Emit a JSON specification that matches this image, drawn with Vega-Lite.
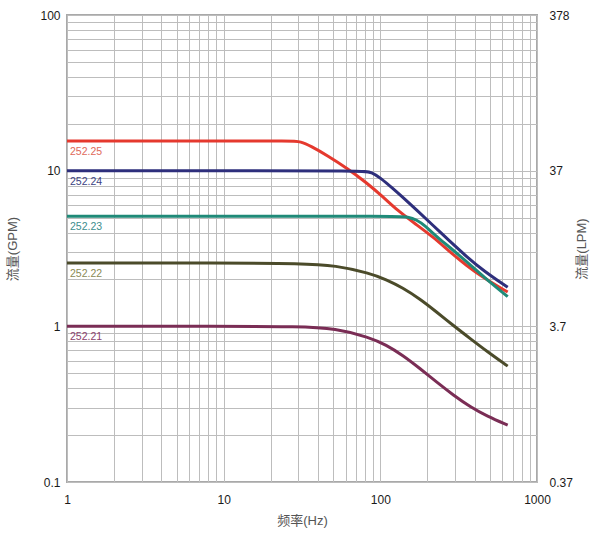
{
  "$schema": "https://vega.github.io/schema/vega-lite/v6.json",
  "width": 470,
  "height": 467,
  "autosize": {"type": "none"},
  "padding": {"left": 67, "top": 15, "right": 60, "bottom": 55},
  "background": "white",
  "config": {
    "view": {"stroke": "#a9a9a9", "strokeWidth": 2},
    "font": "Liberation Sans, Noto Sans CJK SC",
    "axis": {
      "labelFont": "Liberation Sans",
      "labelFontSize": 12,
      "labelColor": "#1a1a1a",
      "titleFont": "Liberation Sans, Noto Sans CJK SC",
      "titleFontSize": 13,
      "titleFontWeight": "normal",
      "titleColor": "#555555",
      "ticks": false,
      "domain": false,
      "gridColor": "#bdbdbd",
      "gridWidth": 1,
      "gridOpacity": 1
    }
  },
  "datasets": {
    "curves": [
      {"model": "252.25", "freq": 1, "flow": 15.5},
      {"model": "252.25", "freq": 10, "flow": 15.5},
      {"model": "252.25", "freq": 27, "flow": 15.5},
      {"model": "252.25", "freq": 31, "flow": 15.4},
      {"model": "252.25", "freq": 36, "flow": 14.4},
      {"model": "252.25", "freq": 46, "flow": 12.5},
      {"model": "252.25", "freq": 62, "flow": 10.3},
      {"model": "252.25", "freq": 80, "flow": 8.5},
      {"model": "252.25", "freq": 104, "flow": 6.8},
      {"model": "252.25", "freq": 130, "flow": 5.5},
      {"model": "252.25", "freq": 170, "flow": 4.5},
      {"model": "252.25", "freq": 217, "flow": 3.75},
      {"model": "252.25", "freq": 279, "flow": 3.0},
      {"model": "252.25", "freq": 356, "flow": 2.45},
      {"model": "252.25", "freq": 456, "flow": 2.05},
      {"model": "252.25", "freq": 650, "flow": 1.66},
      {"model": "252.24", "freq": 1, "flow": 10},
      {"model": "252.24", "freq": 10, "flow": 10},
      {"model": "252.24", "freq": 78, "flow": 10},
      {"model": "252.24", "freq": 88, "flow": 9.8},
      {"model": "252.24", "freq": 100, "flow": 9.0},
      {"model": "252.24", "freq": 120, "flow": 7.7},
      {"model": "252.24", "freq": 140, "flow": 6.7},
      {"model": "252.24", "freq": 170, "flow": 5.6},
      {"model": "252.24", "freq": 217, "flow": 4.45},
      {"model": "252.24", "freq": 279, "flow": 3.5},
      {"model": "252.24", "freq": 356, "flow": 2.8},
      {"model": "252.24", "freq": 456, "flow": 2.27},
      {"model": "252.24", "freq": 650, "flow": 1.78},
      {"model": "252.23", "freq": 1, "flow": 5.1},
      {"model": "252.23", "freq": 10, "flow": 5.1},
      {"model": "252.23", "freq": 130, "flow": 5.1},
      {"model": "252.23", "freq": 150, "flow": 5.05},
      {"model": "252.23", "freq": 170, "flow": 4.85},
      {"model": "252.23", "freq": 195, "flow": 4.4},
      {"model": "252.23", "freq": 217, "flow": 3.95},
      {"model": "252.23", "freq": 250, "flow": 3.5},
      {"model": "252.23", "freq": 279, "flow": 3.2},
      {"model": "252.23", "freq": 356, "flow": 2.6},
      {"model": "252.23", "freq": 456, "flow": 2.08},
      {"model": "252.23", "freq": 650, "flow": 1.55},
      {"model": "252.22", "freq": 1, "flow": 2.55},
      {"model": "252.22", "freq": 10, "flow": 2.55},
      {"model": "252.22", "freq": 31.6, "flow": 2.54},
      {"model": "252.22", "freq": 52, "flow": 2.46},
      {"model": "252.22", "freq": 85, "flow": 2.2},
      {"model": "252.22", "freq": 109, "flow": 2.0},
      {"model": "252.22", "freq": 139, "flow": 1.77},
      {"model": "252.22", "freq": 179, "flow": 1.5},
      {"model": "252.22", "freq": 228, "flow": 1.24},
      {"model": "252.22", "freq": 293, "flow": 1.01},
      {"model": "252.22", "freq": 375, "flow": 0.834},
      {"model": "252.22", "freq": 480, "flow": 0.69},
      {"model": "252.22", "freq": 650, "flow": 0.555},
      {"model": "252.21", "freq": 1, "flow": 1.0},
      {"model": "252.21", "freq": 10, "flow": 1.0},
      {"model": "252.21", "freq": 30, "flow": 1.0},
      {"model": "252.21", "freq": 52, "flow": 0.97},
      {"model": "252.21", "freq": 85, "flow": 0.85},
      {"model": "252.21", "freq": 109, "flow": 0.76},
      {"model": "252.21", "freq": 139, "flow": 0.652},
      {"model": "252.21", "freq": 179, "flow": 0.536},
      {"model": "252.21", "freq": 228, "flow": 0.439},
      {"model": "252.21", "freq": 293, "flow": 0.361},
      {"model": "252.21", "freq": 375, "flow": 0.304},
      {"model": "252.21", "freq": 480, "flow": 0.265},
      {"model": "252.21", "freq": 650, "flow": 0.232}
    ],
    "labels": [
      {"model": "252.25", "flow": 15.5},
      {"model": "252.24", "flow": 10},
      {"model": "252.23", "flow": 5.1},
      {"model": "252.22", "flow": 2.55},
      {"model": "252.21", "flow": 1.0}
    ]
  },
  "layer": [
    {
      "data": {"name": "curves"},
      "mark": {"type": "line", "strokeWidth": 3, "interpolate": "basis"},
      "encoding": {
        "x": {
          "field": "freq", "type": "quantitative",
          "scale": {"type": "log", "domain": [1, 1000], "nice": false},
          "axis": {
            "values": [1,2,3,4,5,6,7,8,9,10,20,30,40,50,60,70,80,90,100,200,300,400,500,600,700,800,900,1000],
            "labelExpr": "datum.value == 1 ? '1' : datum.value == 10 ? '10' : datum.value == 100 ? '100' : datum.value == 1000 ? '1000' : ''",
            "labelPadding": 12,
            "labelOverlap": false,
            "labelFlush": false,
            "title": "频率(Hz)",
            "titlePadding": 9
          }
        },
        "y": {
          "field": "flow", "type": "quantitative",
          "scale": {"type": "log", "domain": [0.1, 100], "nice": false},
          "axis": {
            "values": [0.1,0.2,0.3,0.4,0.5,0.6,0.7,0.8,0.9,1,2,3,4,5,6,7,8,9,10,20,30,40,50,60,70,80,90,100],
            "labelExpr": "datum.value == 0.1 ? '0.1' : datum.value == 1 ? '1' : datum.value == 10 ? '10' : datum.value == 100 ? '100' : ''",
            "labelPadding": 7,
            "labelOverlap": false,
            "labelFlush": false,
            "title": "流量(GPM)",
            "titlePadding": 20
          }
        },
        "color": {
          "field": "model", "type": "nominal",
          "scale": {
            "domain": ["252.22", "252.21", "252.23", "252.24", "252.25"],
            "range": ["#4b4b2a", "#7a2d55", "#1f8a78", "#2e2f7c", "#e5392e"]
          },
          "legend": null
        }
      }
    },
    {
      "data": {"name": "labels"},
      "mark": {"type": "text", "align": "left", "baseline": "middle", "dy": 11, "fontSize": 10.5, "font": "Liberation Sans Narrow, Liberation Sans"},
      "encoding": {
        "x": {"datum": 1.045, "type": "quantitative"},
        "y": {
          "field": "flow", "type": "quantitative",
          "scale": {"type": "log", "domain": [0.1, 100], "nice": false},
          "axis": {
            "orient": "right",
            "values": [0.1, 1, 10, 100],
            "labelExpr": "datum.value == 0.1 ? '0.37' : datum.value == 1 ? '3.7' : datum.value == 10 ? '37' : datum.value == 100 ? '378' : ''",
            "grid": false,
            "labelPadding": 12,
            "labelOverlap": false,
            "labelFlush": false,
            "title": "流量(LPM)",
            "titleAngle": 270,
            "titlePadding": 16
          }
        },
        "text": {"field": "model"},
        "fill": {
          "field": "model", "type": "nominal",
          "scale": {
            "domain": ["252.25", "252.24", "252.23", "252.22", "252.21"],
            "range": ["#e0695a", "#3b3f82", "#3d8e8e", "#8a8a55", "#8c3f6c"]
          },
          "legend": null
        }
      }
    }
  ],
  "resolve": {"scale": {"y": "independent", "fill": "independent"}}
}
